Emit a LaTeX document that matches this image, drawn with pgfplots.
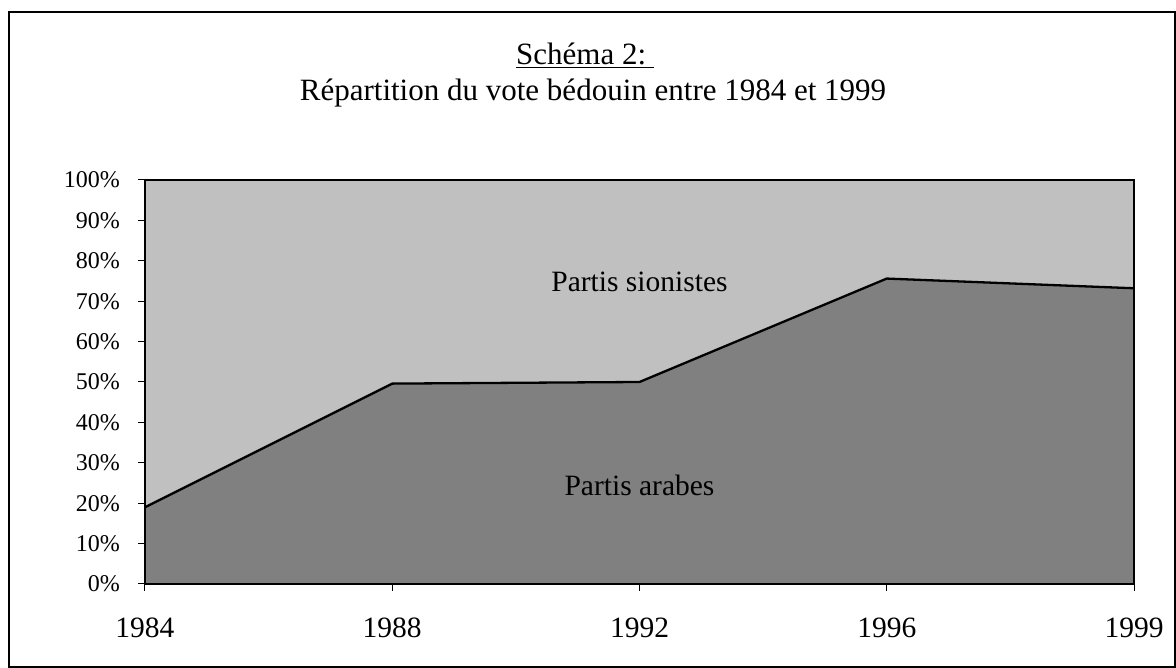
\documentclass[border=0pt]{standalone}
\usepackage{fontspec}
\setmainfont{Liberation Serif}
\usepackage{pgfplots}
\pgfplotsset{compat=1.18}
\definecolor{darkarea}{HTML}{808080}
\definecolor{lightarea}{HTML}{C0C0C0}
\begin{document}
\begin{tikzpicture}
\useasboundingbox (-145pt,-84pt) rectangle (1031pt,584pt);
\draw[line width=1.2pt] (-136pt,-83pt) rectangle (1030pt,572pt);
\begin{axis}[
  at={(0,0)}, anchor=south west,
  width=989pt, height=404pt, scale only axis,
  xmin=0, xmax=4, ymin=0, ymax=100,
  xtick={0,1,2,3,4},
  xticklabels={1984,1988,1992,1996,1999},
  ytick={0,10,20,30,40,50,60,70,80,90,100},
  yticklabels={0\%,10\%,20\%,30\%,40\%,50\%,60\%,70\%,80\%,90\%,100\%},
  xtick pos=bottom, ytick pos=left,
  tick align=outside, major tick length=7pt,
  axis line style={line width=2.5pt},
  tick style={black, line width=1pt},
  axis background/.style={fill=lightarea},
  axis on top=true,
  x tick label style={font=\fontsize{29.5}{35}\selectfont, inner sep=0pt, anchor=north, yshift=-27pt},
  y tick label style={font=\fontsize{24}{29}\selectfont, inner sep=0pt, anchor=east, xshift=-18pt},
]
\addplot[fill=darkarea, draw=none] coordinates {(0,19) (1,49.6) (2,50) (3,75.6) (4,73.2)} \closedcycle;
\addplot[black, line width=2.3pt] coordinates {(0,19) (1,49.6) (2,50) (3,75.6) (4,73.2)};
\node[anchor=base, font=\fontsize{29.5}{35}\selectfont] at (axis cs:2,72.5) {Partis sionistes};
\node[anchor=base, font=\fontsize{29.5}{35}\selectfont] at (axis cs:2,22) {Partis arabes};
\end{axis}
\node[anchor=base, font=\fontsize{31}{37}\selectfont] at (440pt,519pt) {\underline{Schéma 2:\ }};
\node[anchor=base, font=\fontsize{31}{37}\selectfont] at (448pt,483pt) {Répartition du vote bédouin entre 1984 et 1999};
\end{tikzpicture}
\end{document}
